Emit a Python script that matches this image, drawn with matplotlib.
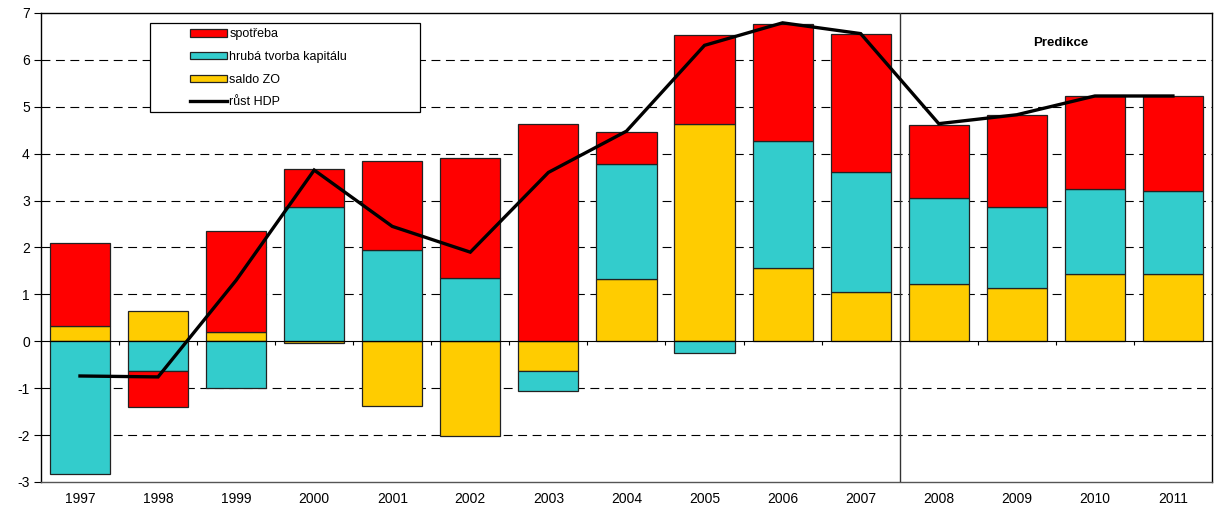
import matplotlib.pyplot as plt
from matplotlib.patches import Rectangle
import numpy as np

plt.rcParams["font.family"] = ["Liberation Sans", "DejaVu Sans"]
plt.rcParams["axes.unicode_minus"] = False

years = ["1997", "1998", "1999", "2000", "2001", "2002", "2003", "2004",
         "2005", "2006", "2007", "2008", "2009", "2010", "2011"]
saldo_zo = [0.33, 0.64, 0.19, -0.03, -1.39, -2.01, -0.64, 1.32,
            4.64, 1.56, 1.05, 1.22, 1.14, 1.44, 1.43]
kapital = [-2.83, -0.64, -1.00, 2.86, 1.94, 1.35, -0.41, 2.45,
           -0.24, 2.70, 2.55, 1.84, 1.72, 1.80, 1.77]
spotreba = [1.77, -0.77, 2.16, 0.82, 1.91, 2.56, 4.64, 0.70,
            1.90, 2.51, 2.95, 1.56, 1.97, 1.98, 2.02]
rust_hdp = [-0.74, -0.76, 1.30, 3.65, 2.45, 1.90, 3.60, 4.48,
            6.31, 6.79, 6.56, 4.64, 4.83, 5.23, 5.23]

fig = plt.figure(figsize=(12.15, 5.11), dpi=100)
ax = fig.add_axes([0.0337, 0.0568, 0.9638, 0.9178])

x = np.arange(len(years))
width = 0.77
pos_base = np.zeros(len(years))
neg_base = np.zeros(len(years))
bars = {}
for name, vals, col in [("saldo ZO", saldo_zo, "#FFCC00"),
                        ("hrubá tvorba kapitálu", kapital, "#33CCCC"),
                        ("spotřeba", spotreba, "#FF0000")]:
    v = np.array(vals)
    base = np.where(v >= 0, pos_base, neg_base)
    bars[name] = ax.bar(x, v, width, bottom=base, color=col,
                        edgecolor="#222222", linewidth=0.9, zorder=2)
    pos_base = pos_base + np.where(v >= 0, v, 0)
    neg_base = neg_base + np.where(v < 0, v, 0)

line, = ax.plot(x, rust_hdp, color="black", linewidth=2.4, zorder=4,
                solid_joinstyle="miter")

# grid
for g in [-2, -1, 1, 2, 3, 4, 5, 6]:
    ax.axhline(g, color="black", linewidth=0.8, linestyle=(0, (8, 5)), zorder=1)
ax.axhline(0, color="black", linewidth=0.8, zorder=3)
ax.vlines(x[:-1] + 0.5, -0.09, 0, color="black", linewidth=0.8, zorder=3)

# prediction separator
ax.axvline(10.5, color="#333333", linewidth=1.0, zorder=3)
ax.text(12.56, 6.35, "Predikce", ha="center", va="center",
        fontsize=9.5, fontweight="bold")

ax.set_xlim(-0.5, 14.5)
ax.set_ylim(-3, 7)
ax.set_yticks(range(-3, 8))
ax.set_xticks(x)
ax.set_xticklabels(years, fontsize=10)
ax.tick_params(axis="x", length=0, pad=7)
ax.tick_params(axis="y", length=5, width=0.8, labelsize=10, pad=3)
for s in ax.spines.values():
    s.set_linewidth(1.0)
ax.spines["bottom"].set_color("#555555")

# legend frame drawn separately so the entries can sit indented
ax.add_patch(Rectangle((0.093, 0.789), 0.231, 0.19, transform=ax.transAxes,
                       facecolor="white", edgecolor="black", linewidth=0.9,
                       zorder=5))
leg = ax.legend([bars["spotřeba"], bars["hrubá tvorba kapitálu"],
                 bars["saldo ZO"], line],
                ["spotřeba", "hrubá tvorba kapitálu", "saldo ZO", "růst HDP"],
                loc="upper left", bbox_to_anchor=(0.124, 0.975),
                borderaxespad=0, fontsize=9, frameon=False,
                handlelength=3.0, handleheight=0.55, handletextpad=0.15,
                labelspacing=0.85, borderpad=0.3)
leg.set_zorder(6)

fig.savefig("out.png", dpi=100)
